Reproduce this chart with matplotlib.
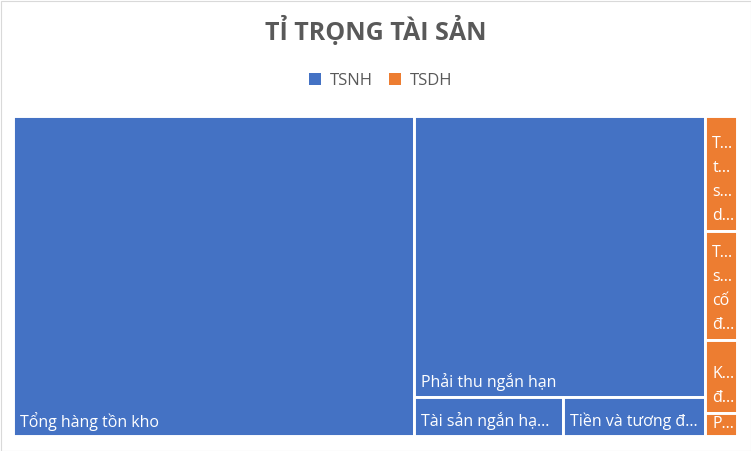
import matplotlib
matplotlib.use("Agg")
import matplotlib.pyplot as plt
from matplotlib.patches import Rectangle, Patch
from matplotlib.font_manager import FontProperties

# Dữ liệu (tỉ trọng ước lượng, %)
groups = ["TSNH", "TSDH"]
group_colors = ["#4472C4", "#ED7D31"]
tsnh_labels = ["Tổng hàng tồn kho", "Phải thu ngắn hạn",
               "Tài sản ngắn hạn khác", "Tiền và tương đương tiền"]
tsnh_values = [55.4, 35.3, 2.5, 2.4]
tsdh_labels = ["Tổng tài sản dở dang dài hạn", "Tài sản cố định",
               "Khoản đầu tư tài chính dài hạn", "Phải thu dài hạn"]
tsdh_values = [1.6, 1.5, 1.0, 0.33]

W_PX, H_PX = 751, 451
fig = plt.figure(figsize=(W_PX / 100, H_PX / 100), dpi=100)

# vùng vẽ theo pixel
x0, x1, y0, y1 = 14 - 1.4, 736 + 1.4, 117 - 1.4, 435 + 1.4
ax = fig.add_axes([x0 / W_PX, 1 - y1 / H_PX, (x1 - x0) / W_PX, (y1 - y0) / H_PX])
aw, ah = x1 - x0, y1 - y0
ax.set_xlim(0, aw)
ax.set_ylim(ah, 0)
ax.axis("off")


def worst(row, side):
    s = sum(row)
    return max(max(side * side * r / (s * s), s * s / (side * side * r)) for r in row)


def squarify(vals, x, y, w, h):
    total = sum(vals)
    areas = [v * w * h / total for v in vals]
    rects = []
    i = 0
    while i < len(areas):
        side = min(w, h)
        row = [areas[i]]
        j = i + 1
        while j < len(areas) and worst(row + [areas[j]], side) <= worst(row, side):
            row.append(areas[j])
            j += 1
        s = sum(row)
        if w >= h:
            cw = s / h
            yy = y
            for a in row:
                rects.append((x, yy, cw, a / cw))
                yy += a / cw
            x += cw
            w -= cw
        else:
            rh = s / w
            xx = x
            for a in row:
                rects.append((xx, y, a / rh, rh))
                xx += a / rh
            y += rh
            h -= rh
        i = j
    return rects


font = FontProperties(family=["Open Sans", "DejaVu Sans"], size=11.5)
renderer = fig.canvas.get_renderer()
LINE_H = 24
ELL = "..."


def text_w(s):
    w, _, _ = renderer.get_text_width_height_descent(s, font, ismath=False)
    return w


def trunc(word, avail):
    if text_w(word) <= avail:
        return word
    for k in range(len(word) - 1, 0, -1):
        if text_w(word[:k] + ELL) <= avail:
            return word[:k] + ELL
    return word[0] + ELL


def fit_lines(label, bw, bh):
    avail = bw - 14
    n_max = max(1, int((bh - 4) // LINE_H))
    if n_max == 1:
        return [trunc(label, avail)]
    lines = []
    cur = ""
    for word in label.split():
        cand = (cur + " " + word).strip()
        if text_w(cand) <= avail:
            cur = cand
        else:
            if cur:
                lines.append(cur)
            cur = trunc(word, avail)
    if cur:
        lines.append(cur)
    return lines[:n_max]


group_values = [sum(tsnh_values), sum(tsdh_values)]
group_rects = squarify(group_values, 0, 0, aw, ah)
children = [(tsnh_labels, tsnh_values), (tsdh_labels, tsdh_values)]

for (gx, gy, gw, gh), (labels, values), color in zip(group_rects, children, group_colors):
    for (rx, ry, rw, rh), lab in zip(squarify(values, gx, gy, gw, gh), labels):
        ax.add_patch(Rectangle((rx, ry), rw, rh, facecolor=color,
                               edgecolor="white", linewidth=2.1))
        lines = fit_lines(lab, rw, rh)
        y_last = max(ry + rh - 15, ry + rh / 2)
        n = len(lines)
        for k, line in enumerate(lines):
            ax.text(rx + 7, y_last - (n - 1 - k) * LINE_H, line, color="white",
                    fontproperties=font, ha="left", va="center")

fig.text(0.5, 1 - 31 / H_PX, "TỈ TRỌNG TÀI SẢN", ha="center", va="center",
         fontsize=18, fontweight="bold", color="#595959",
         family=["Open Sans", "DejaVu Sans"])

handles = [Patch(facecolor=c, edgecolor="none") for c in group_colors]
fig.legend(handles, groups, loc="center", bbox_to_anchor=(0.507, 1 - 81 / H_PX),
           ncol=2, frameon=False, handlelength=0.7, handleheight=0.7,
           handletextpad=0.55, columnspacing=1.0,
           prop=FontProperties(family=["Open Sans", "DejaVu Sans"], size=12),
           labelcolor="#595959")

fig.add_artist(Rectangle((0.5 / W_PX, 0.5 / H_PX), 1 - 1 / W_PX, 1 - 1 / H_PX,
                         transform=fig.transFigure, fill=False,
                         edgecolor="#D9D9D9", linewidth=0.8))

fig.savefig("out.png", dpi=100, facecolor="white")
